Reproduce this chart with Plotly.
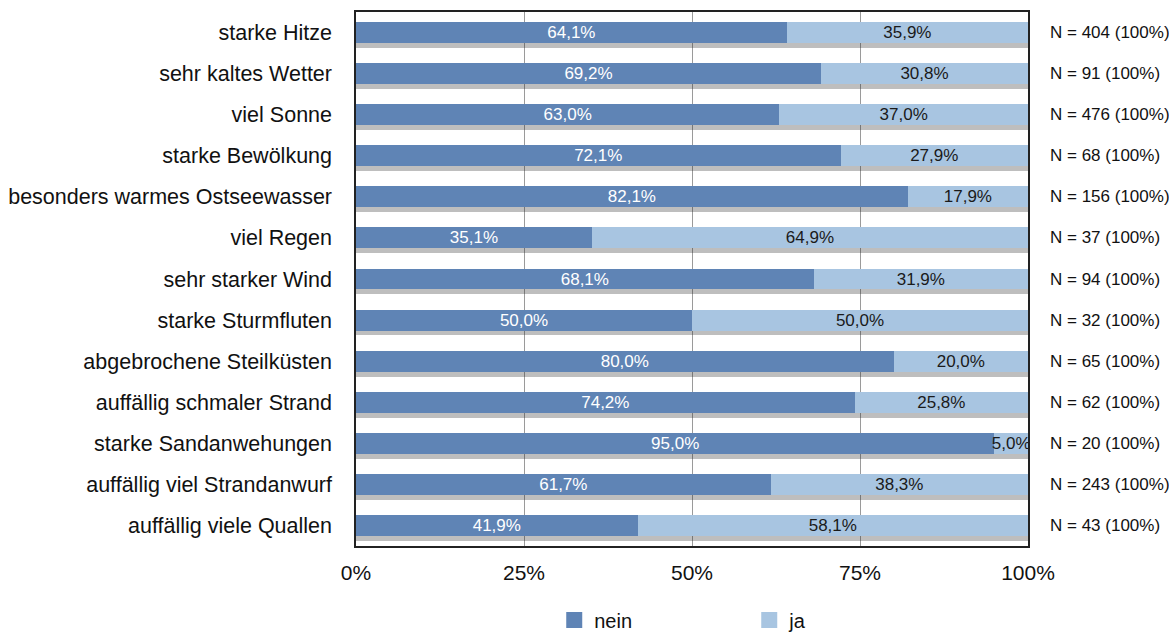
import plotly.graph_objects as go

categories = [
    "starke Hitze", "sehr kaltes Wetter", "viel Sonne", "starke Bewölkung",
    "besonders warmes Ostseewasser", "viel Regen", "sehr starker Wind",
    "starke Sturmfluten", "abgebrochene Steilküsten", "auffällig schmaler Strand",
    "starke Sandanwehungen", "auffällig viel Strandanwurf", "auffällig viele Quallen",
]
nein = [64.1, 69.2, 63.0, 72.1, 82.1, 35.1, 68.1, 50.0, 80.0, 74.2, 95.0, 61.7, 41.9]
ja = [35.9, 30.8, 37.0, 27.9, 17.9, 64.9, 31.9, 50.0, 20.0, 25.8, 5.0, 38.3, 58.1]
n_values = [404, 91, 476, 68, 156, 37, 94, 32, 65, 62, 20, 243, 43]
x_ticks = [0, 25, 50, 75, 100]
series_names = ["nein", "ja"]

FONT = "Liberation Sans, Arial, Helvetica, sans-serif"
C_NEIN = "#5f84b5"
C_JA = "#a8c5e1"

totals = [a + b for a, b in zip(nein, ja)]

fig = go.Figure()

# soft drop shadow under each bar (main axes, drawn first)
fig.add_trace(go.Bar(
    y=categories, x=totals, orientation="h",
    marker=dict(color="rgba(40,40,40,0.30)", line=dict(width=0)),
    xaxis="x", yaxis="y", showlegend=False, hoverinfo="skip",
))

fig.add_trace(go.Bar(
    y=categories, x=nein, orientation="h", name=series_names[0],
    marker=dict(color=C_NEIN, line=dict(width=0)), showlegend=False,
    texttemplate="%{x:.1f}%", textposition="inside", insidetextanchor="middle",
    constraintext="none", xaxis="x2", yaxis="y2",
    textfont=dict(color="white", size=17, family=FONT),
))
fig.add_trace(go.Bar(
    y=categories, x=ja, orientation="h", name=series_names[1],
    marker=dict(color=C_JA, line=dict(width=0)), showlegend=False,
    texttemplate="%{x:.1f}%", textposition="inside", insidetextanchor="middle",
    constraintext="none", xaxis="x2", yaxis="y2",
    textfont=dict(color="#1a1a1a", size=17, family=FONT),
))

# legend entries with larger square swatches
for name, col in zip(series_names, [C_NEIN, C_JA]):
    fig.add_trace(go.Scatter(
        x=[None], y=[None], mode="markers", name=name,
        marker=dict(symbol="square", size=16, color=col),
        xaxis="x2", yaxis="y2",
    ))

for cat, n in zip(categories, n_values):
    fig.add_annotation(
        xref="paper", yref="y2", x=1, y=cat, xanchor="left", xshift=20,
        text=f"N = {n} (100%)", showarrow=False,
        font=dict(size=17, color="#111", family=FONT),
    )

fig.update_layout(
    width=1169, height=632,
    margin=dict(l=356, r=141, t=12, b=86, autoexpand=False),
    barmode="stack", bargap=0.49,
    separators=",.",
    paper_bgcolor="white", plot_bgcolor="white",
    font=dict(family=FONT, color="#111"),
    xaxis=dict(
        range=[0, 100], tickvals=x_ticks, ticktext=[f"{v}%" for v in x_ticks],
        showgrid=True, gridcolor="#9a9a9a", gridwidth=1,
        showline=True, linecolor="#222", linewidth=1.5, mirror=True,
        ticks="", ticklabelstandoff=7, automargin=False,
        tickfont=dict(size=21, color="#111"), zeroline=False,
    ),
    yaxis=dict(
        categoryorder="array", categoryarray=categories,
        range=[12.38, -0.62], showticklabels=False, showgrid=False,
        showline=True, linecolor="#222", linewidth=1.5, mirror=True,
        ticks="", automargin=False,
    ),
    xaxis2=dict(range=[0, 100], overlaying="x", visible=False),
    yaxis2=dict(
        categoryorder="array", categoryarray=categories,
        range=[12.5, -0.5], overlaying="y", side="left",
        showline=False, showgrid=False, ticks="", ticklabelstandoff=23,
        tickfont=dict(size=21.5, color="#111"), automargin=False,
    ),
    legend=dict(
        orientation="h", x=0.295, xanchor="left",
        yref="container", y=(632 - 620) / 632, yanchor="middle",
        font=dict(size=20, color="#111"), entrywidth=150,
        traceorder="normal",
    ),
)

fig.write_html("out.html", config={"displayModeBar": False},
               post_script="document.body.style.margin='0';")
